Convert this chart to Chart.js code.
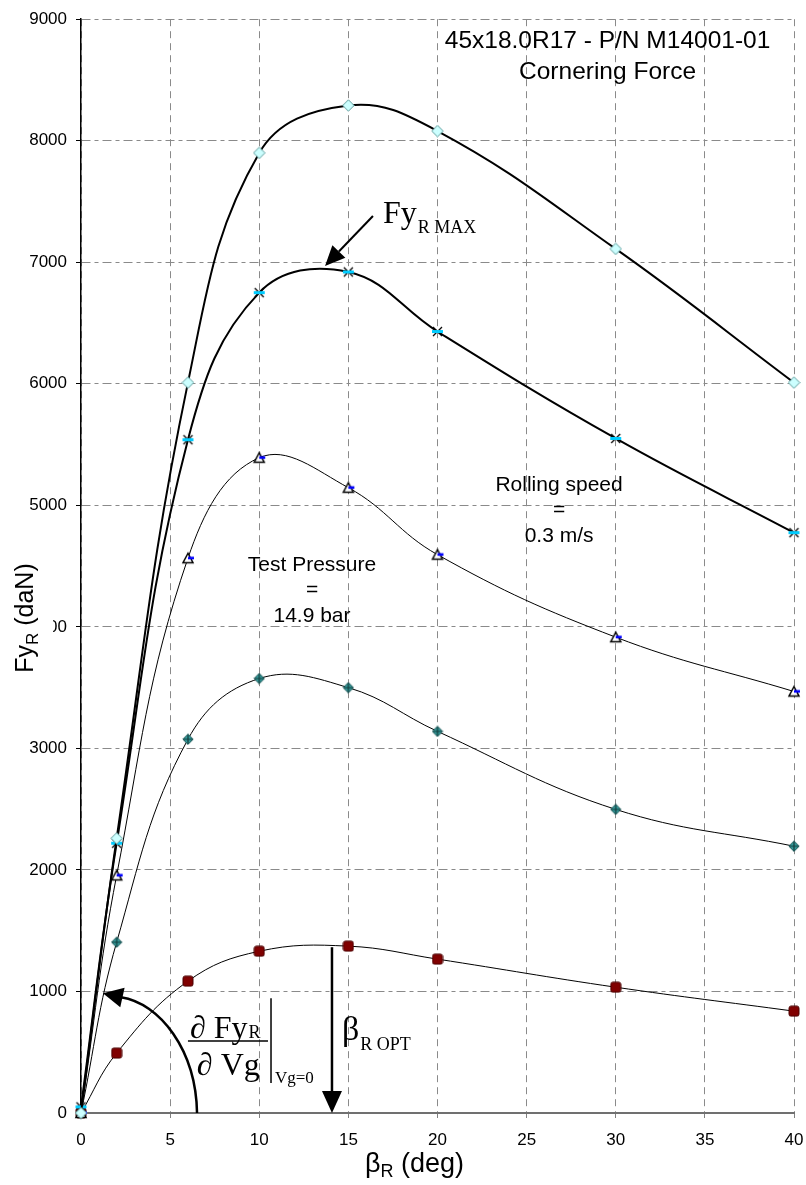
<!DOCTYPE html>
<html><head><meta charset="utf-8">
<script src="https://cdn.jsdelivr.net/npm/chart.js"></script>
<style>html,body{margin:0;padding:0;background:#fff;}#wrap{width:806px;height:1185px;position:relative;}</style>
</head><body><div id="wrap"><canvas id="c"></canvas></div>
<script>
// ---- data ----
const betaDeg = [0, 2, 6, 10, 15, 20, 30, 40];
const seriesA = [0, 2260, 6010, 7900, 8290, 8080, 7110, 6010];
const seriesB = [50, 2220, 5540, 6750, 6920, 6430, 5550, 4775];
const seriesC = [0, 1955, 4565, 5392, 5145, 4594, 3915, 3468];
const seriesD = [0, 1405, 3075, 3575, 3500, 3140, 2498, 2195];
const seriesE = [0, 493, 1085, 1331, 1373, 1266, 1035, 838];
const xTicks = [0, 5, 10, 15, 20, 25, 30, 35, 40];
const yTicks = [0, 1000, 2000, 3000, 4000, 5000, 6000, 7000, 8000, 9000];
const titleLines = ['45x18.0R17 - P/N M14001-01', 'Cornering Force'];
const noteRolling = ['Rolling speed', '=', '0.3 m/s'];
const notePressure = ['Test Pressure', '=', '14.9 bar'];

const F_SANS = '"Liberation Sans", Arial, sans-serif';
const F_SERIF = '"Liberation Serif", "Times New Roman", serif';

function mk(w, h, fn) { const c = document.createElement('canvas'); c.width = w; c.height = h; fn(c.getContext('2d'), w, h); return c; }
const mA = mk(13, 13, g => { g.beginPath(); g.moveTo(6.5, 0.8); g.lineTo(12.2, 6.5); g.lineTo(6.5, 12.2); g.lineTo(0.8, 6.5); g.closePath(); g.fillStyle = '#CCFFFF'; g.fill(); g.strokeStyle = '#5E9C9C'; g.lineWidth = 1; g.stroke(); });
const mB = mk(13, 13, g => { g.strokeStyle = '#000'; g.lineWidth = 1.3; g.beginPath(); g.moveTo(2, 2); g.lineTo(11, 11); g.moveTo(11, 2); g.lineTo(2, 11); g.stroke(); g.fillStyle = '#00CCFF'; g.fillRect(1, 5, 11, 3); });
const mC = mk(14, 14, g => { g.beginPath(); g.moveTo(7, 2); g.lineTo(12, 11.5); g.lineTo(2, 11.5); g.closePath(); g.fillStyle = '#fff'; g.fill(); g.strokeStyle = '#000'; g.lineWidth = 1.5; g.stroke(); g.fillStyle = '#0000FF'; g.fillRect(7, 5.5, 6, 2.6); });
const mD = mk(12, 12, g => { g.beginPath(); g.moveTo(6, 0.8); g.lineTo(11.2, 6); g.lineTo(6, 11.2); g.lineTo(0.8, 6); g.closePath(); g.fillStyle = '#339999'; g.fill(); g.strokeStyle = '#1C5656'; g.lineWidth = 1; g.stroke(); g.strokeStyle = '#123C3C'; g.lineWidth = 1.2; g.beginPath(); g.moveTo(6, 1.5); g.lineTo(6, 10.5); g.moveTo(1.5, 6); g.lineTo(10.5, 6); g.stroke(); });
const mE = mk(12, 12, g => { g.beginPath(); if (g.roundRect) g.roundRect(1, 1, 10, 10, 2); else g.rect(1, 1, 10, 10); g.fillStyle = '#800000'; g.fill(); g.strokeStyle = '#4A0000'; g.lineWidth = 1; g.stroke(); });

function ds(vals, marker, width) {
  return { data: betaDeg.map((x, i) => ({ x: x, y: vals[i] })), borderColor: '#000', borderWidth: width,
    pointStyle: marker, pointRadius: 6, pointHoverRadius: 6, tension: 0.4, fill: false, clip: false };
}

function arrowHead(ctx, tx, ty, fx, fy, len, half) {
  const dx = tx - fx, dy = ty - fy, L = Math.hypot(dx, dy), ux = dx / L, uy = dy / L;
  const bx = tx - ux * len, by = ty - uy * len;
  ctx.beginPath(); ctx.moveTo(tx, ty); ctx.lineTo(bx - uy * half, by + ux * half); ctx.lineTo(bx + uy * half, by - ux * half); ctx.closePath(); ctx.fill();
  return [bx, by];
}

const annot = {
  id: 'annot',
  afterDraw(chart) {
    const ctx = chart.ctx, xs = chart.scales.x, ys = chart.scales.y;
    const X = v => xs.getPixelForValue(v), Y = v => ys.getPixelForValue(v);
    ctx.save();
    ctx.fillStyle = '#000'; ctx.strokeStyle = '#000'; ctx.textBaseline = 'alphabetic';

    // title
    ctx.font = '24.5px ' + F_SANS; ctx.textAlign = 'center';
    ctx.fillText(titleLines[0], X(29.54), Y(8762));
    ctx.fillText(titleLines[1], X(29.54), Y(8507));

    // notes
    ctx.font = '21px ' + F_SANS;
    [5121, 4915, 4701].forEach((v, i) => ctx.fillText(noteRolling[i], X(26.82), Y(v)));
    [4463, 4258, 4044].forEach((v, i) => ctx.fillText(notePressure[i], X(12.96), Y(v)));
    ctx.textAlign = 'left';

    // Fy_R MAX arrow + label
    ctx.lineWidth = 2;
    const t1 = [X(13.69), Y(6970)], s1 = [X(16.38), Y(7381)];
    const b1 = arrowHead(ctx, t1[0], t1[1], s1[0], s1[1], 20, 9);
    ctx.beginPath(); ctx.moveTo(s1[0], s1[1]); ctx.lineTo(b1[0], b1[1]); ctx.stroke();
    ctx.font = '32px ' + F_SERIF;
    let x0 = X(16.94); ctx.fillText('Fy', x0, Y(7323));
    let w = ctx.measureText('Fy').width;
    ctx.font = '18px ' + F_SERIF; ctx.fillText('R MAX', x0 + w + 1, Y(7241));

    // beta_R OPT arrow + label
    ctx.lineWidth = 2.5;
    const bx = X(14.08), btop = Y(1364), bbot = Y(0);
    const b2 = arrowHead(ctx, bx, bbot, bx, btop, 22, 10);
    ctx.beginPath(); ctx.moveTo(bx, btop); ctx.lineTo(b2[0], b2[1]); ctx.stroke();
    ctx.font = '34px ' + F_SERIF;
    x0 = X(14.64); ctx.fillText('β', x0, Y(600));
    w = ctx.measureText('β').width;
    ctx.font = '18px ' + F_SERIF; ctx.fillText('R OPT', x0 + w + 1, Y(518));

    // curved arrow (initial slope)
    ctx.lineWidth = 2.5;
    ctx.beginPath(); ctx.moveTo(X(6.51), Y(0));
    ctx.bezierCurveTo(X(6.45), Y(518), X(4.43), Y(904), X(2.24), Y(953));
    ctx.stroke();
    arrowHead(ctx, X(1.23), Y(986), X(2.24), Y(953), 20, 10);

    // partial derivative expression
    ctx.font = '32px ' + F_SERIF;
    x0 = X(6.115); ctx.fillText('\u2202 Fy', x0, Y(616));
    w = ctx.measureText('\u2202 Fy').width;
    ctx.font = '18px ' + F_SERIF; ctx.fillText('R', x0 + w + 1, Y(620));
    ctx.lineWidth = 1.5;
    ctx.beginPath(); ctx.moveTo(X(6.0), Y(592)); ctx.lineTo(X(10.49), Y(592)); ctx.stroke();
    ctx.font = '32px ' + F_SERIF; ctx.fillText('\u2202 Vg', X(6.5), Y(312));
    ctx.beginPath(); ctx.moveTo(X(10.66), Y(945)); ctx.lineTo(X(10.66), Y(247)); ctx.stroke();
    ctx.font = '17px ' + F_SERIF; ctx.fillText('Vg=0', X(10.88), Y(247));

    // y axis title with opaque box
    const cy = 618;
    ctx.font = '25px ' + F_SANS;
    const wF = ctx.measureText('Fy').width, wP = ctx.measureText(' (daN)').width;
    ctx.font = '17px ' + F_SANS; const wR = ctx.measureText('R').width;
    const tot = wF + wR + wP;
    ctx.fillStyle = '#fff'; ctx.fillRect(6, cy - tot / 2 - 4, 47, tot + 8);
    ctx.fillStyle = '#000';
    ctx.translate(33, cy); ctx.rotate(-Math.PI / 2);
    let u = -tot / 2;
    ctx.font = '25px ' + F_SANS; ctx.fillText('Fy', u, 0); u += wF;
    ctx.font = '17px ' + F_SANS; ctx.fillText('R', u, 5); u += wR;
    ctx.font = '25px ' + F_SANS; ctx.fillText(' (daN)', u, 0);
    ctx.setTransform(1, 0, 0, 1, 0, 0);

    // x axis title
    let xx = 365;
    ctx.font = '27px ' + F_SANS; ctx.fillText('β', xx, 1172); xx += ctx.measureText('β').width;
    ctx.font = '18px ' + F_SANS; ctx.fillText('R', xx, 1177); xx += ctx.measureText('R').width;
    ctx.font = '27px ' + F_SANS; ctx.fillText(' (deg)', xx, 1172);
    ctx.restore();
  }
};

new Chart(document.getElementById('c'), {
  type: 'line',
  data: { datasets: [ds(seriesA, mA, 2), ds(seriesB, mB, 2), ds(seriesC, mC, 1), ds(seriesD, mD, 1), ds(seriesE, mE, 1)] },
  options: {
    responsive: true, maintainAspectRatio: false, animation: false, events: [],
    plugins: { legend: { display: false }, tooltip: { enabled: false }, title: { display: false } },
    layout: { padding: { top: 18, right: 12, left: 0, bottom: 0 } },
    scales: {
      x: {
        type: 'linear', min: 0, max: 40,
        afterBuildTicks: s => { s.ticks = xTicks.map(v => ({ value: v })); },
        afterFit: s => { s.height = 72; s.paddingLeft = 0; s.paddingRight = 0; },
        grid: { color: '#8a8a8a', lineWidth: 1, tickLength: 5, tickColor: '#808080' },
        border: { color: '#707070', width: 2, dash: [7, 5] },
        ticks: { font: { family: F_SANS, size: 17 }, color: '#000', padding: 12, maxRotation: 0, autoSkip: false, callback: v => String(v) }
      },
      y: {
        min: 0, max: 9000,
        afterBuildTicks: s => { s.ticks = yTicks.map(v => ({ value: v })); },
        afterFit: s => { s.width = 81; },
        grid: { color: '#8a8a8a', lineWidth: 1, tickLength: 5, tickColor: '#000' },
        border: { color: '#000', width: 1.5, dash: [9, 4, 4, 4] },
        ticks: { font: { family: F_SANS, size: 17 }, color: '#000', padding: 9, autoSkip: false, callback: v => String(v) }
      }
    }
  },
  plugins: [annot]
});
</script>
</body></html>
